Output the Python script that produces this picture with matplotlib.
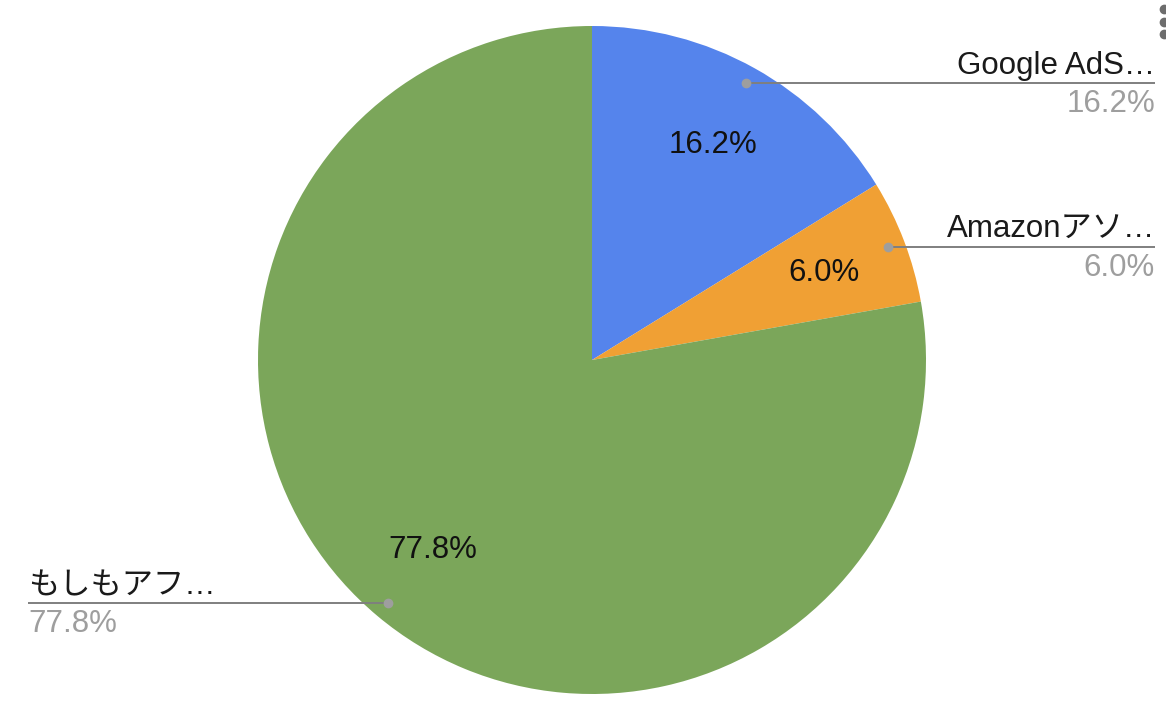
import matplotlib
matplotlib.use("Agg")
import matplotlib.pyplot as plt

labels = ["Google AdS…", "Amazonアソ…", "もしもアフ…"]
values = [16.2, 6.0, 77.8]
pct_labels = ["16.2%", "6.0%", "77.8%"]
colors = ["#5584EC", "#F0A034", "#7BA65A"]

plt.rcParams['font.family'] = ['Liberation Sans', 'Noto Sans CJK JP', 'DejaVu Sans']

W, H = 1166, 714
fig = plt.figure(figsize=(W / 100, H / 100), dpi=100)
ax = fig.add_axes([0, 0, 1, 1])

def Y(py):
    return H - py

cx, cy, r = 592, Y(360), 334
wedges, _ = ax.pie(values, colors=colors, startangle=90, counterclock=False,
                   center=(cx, cy), radius=r, frame=True,
                   wedgeprops=dict(linewidth=0))
ax.set_xlim(0, W)
ax.set_ylim(0, H)
ax.set_aspect('equal')
ax.axis('off')

fs = 22.5
# in-slice percentages
inside = [(713, 145), (824, 273), (433, 550)]
for (x, y), t in zip(inside, pct_labels):
    ax.text(x, Y(y), t, ha='center', va='center', fontsize=fs, color='#111111')

line_c = '#7f7f7f'
dot_c = '#9e9e9e'
gray_t = '#9e9e9e'
# callouts: (dot x, line y, line end x, align)
callouts = [(746, 83, 1155, 'right'), (888, 247, 1155, 'right'), (388, 603, 28, 'left')]
for (dx, ly, ex, al), lab, p in zip(callouts, labels, pct_labels):
    ax.plot([dx, ex], [Y(ly), Y(ly)], color=line_c, lw=1.4, solid_capstyle='butt', zorder=3)
    ax.plot([dx], [Y(ly)], 'o', color=dot_c, ms=6, zorder=4)
    ax.text(ex, Y(ly - 2), lab, ha=al, va='bottom', fontsize=fs, color='#1a1a1a')
    ax.text(ex, Y(ly + 6), p, ha=al, va='top', fontsize=fs, color=gray_t)

# menu dots
for yy in (9, 22, 34):
    ax.plot([1164], [Y(yy)], 'o', color='#6d6d6d', ms=6, clip_on=False)

fig.savefig("out.png", dpi=100)
